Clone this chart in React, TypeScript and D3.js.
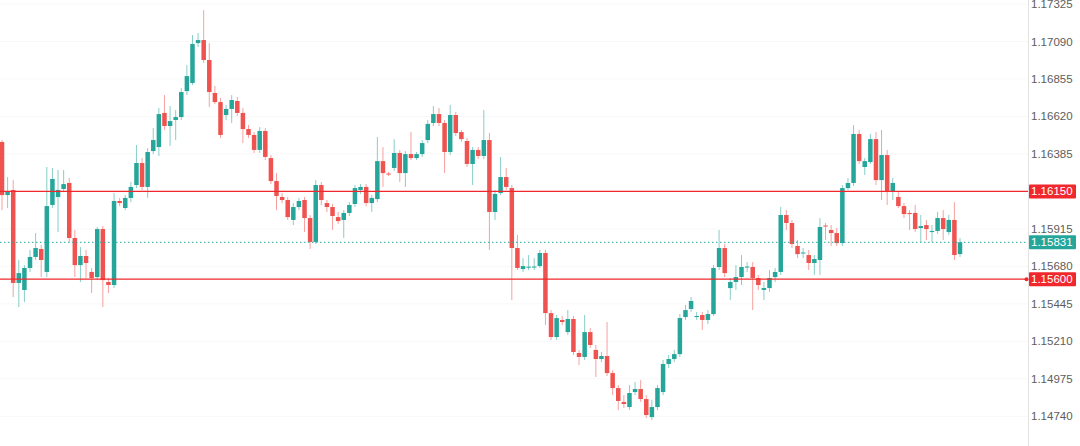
import React from "react";
import * as d3 from "d3";

// EUR/USD style candles (172 bars)
const opens = [
  1.1646,1.16127,1.16159,1.15576,1.15532,1.1567,1.15739,1.15789,1.15645,1.16065,
  1.16115,1.16165,1.16203,1.15858,1.15688,1.15745,1.15645,1.15613,1.15914,1.15582,
  1.15563,1.1609,1.16046,1.16109,1.1619,1.16328,1.16178,1.16403,1.16428,1.16642,
  1.1656,1.16598,1.16616,1.16779,1.1683,1.1708,1.17099,1.16974,1.16767,1.1671,
  1.16629,1.16667,1.16717,1.16642,1.16541,1.16504,1.1641,1.16529,1.16359,1.16215,
  1.16115,1.16096,1.15971,1.16052,1.16096,1.15983,1.15833,1.1619,1.16077,1.16052,
  1.15989,1.15971,1.16015,1.16071,1.16159,1.16178,1.16077,1.16102,1.1634,1.16262,
  1.16297,1.16391,1.16265,1.16384,1.16359,1.16384,1.16472,1.16579,1.16635,1.16579,
  1.16397,1.16629,1.16522,1.16466,1.16322,1.1641,1.16372,1.16472,1.16021,1.1614,
  1.1624,1.16171,1.15795,1.15663,1.15672,1.15673,1.15682,1.15764,1.15387,1.15237,
  1.15344,1.15268,1.1535,1.15137,1.15112,1.15268,1.15156,1.15099,1.15118,1.15011,
  1.14917,1.1483,1.14798,1.14892,1.14911,1.14848,1.14735,1.14798,1.14892,1.15068,
  1.15099,1.1513,1.15362,1.15413,1.15362,1.15375,1.15344,1.15381,1.15676,1.15795,
  1.15544,1.15582,1.15613,1.15673,1.15676,1.15607,1.15532,1.15544,1.15613,1.15645,
  1.16002,1.15952,1.15808,1.15761,1.15751,1.15701,1.1572,1.15936,1.15908,1.15889,
  1.15826,1.16171,1.16203,1.1651,1.16303,1.16334,1.16478,1.16221,1.16378,1.16152,
  1.16115,1.16058,1.16015,1.16015,1.1592,1.15939,1.15895,1.15902,1.15983,1.15895,
  1.15971,1.15757,
];
const highs = [
  1.16472,1.1624,1.16221,1.1572,1.15688,1.15783,1.15889,1.15814,1.16303,1.16297,
  1.16284,1.16284,1.16234,1.15908,1.15801,1.15783,1.1567,1.15927,1.15933,1.15607,
  1.1614,1.16109,1.16127,1.16209,1.16441,1.16359,1.16422,1.16547,1.16673,1.16754,
  1.16685,1.1666,1.16798,1.16942,1.17131,1.17143,1.17287,1.1708,1.16811,1.16736,
  1.16692,1.16754,1.16742,1.16673,1.16566,1.16522,1.16554,1.16547,1.16378,1.16265,
  1.1614,1.16115,1.16077,1.16109,1.16115,1.16002,1.16221,1.16209,1.16096,1.16071,
  1.16021,1.16033,1.16083,1.1619,1.16196,1.16196,1.16127,1.16491,1.16428,1.16272,
  1.16478,1.1641,1.16403,1.16522,1.16397,1.16472,1.16598,1.16685,1.16673,1.16598,
  1.16692,1.16648,1.16535,1.16485,1.16428,1.16428,1.1666,1.16516,1.16159,1.16366,
  1.16297,1.1619,1.15877,1.15732,1.15751,1.15732,1.15783,1.15783,1.15406,1.15375,
  1.15369,1.15406,1.15369,1.15156,1.15375,1.15293,1.15187,1.15143,1.15331,1.1503,
  1.14936,1.14873,1.14936,1.14955,1.14967,1.14873,1.14842,1.14936,1.15093,1.15124,
  1.15156,1.15381,1.15438,1.15488,1.15394,1.15394,1.15406,1.15688,1.15908,1.1582,
  1.15607,1.15688,1.15751,1.15707,1.15707,1.15626,1.15582,1.15657,1.1567,1.16052,
  1.16033,1.15971,1.15845,1.15795,1.15783,1.15751,1.15983,1.15952,1.15939,1.1592,
  1.1619,1.16234,1.16566,1.16535,1.16359,1.1651,1.16522,1.16535,1.1641,1.16234,
  1.16146,1.16077,1.16033,1.16065,1.16002,1.15971,1.15939,1.16021,1.16033,1.16002,
  1.16083,1.15858,
];
const lows = [
  1.16033,1.16046,1.15488,1.15425,1.15456,1.15645,1.1572,1.15613,1.15613,1.16046,
  1.15895,1.16146,1.15833,1.15613,1.15582,1.15607,1.15513,1.15594,1.15425,1.15513,
  1.15544,1.16058,1.16033,1.16083,1.16171,1.16159,1.16109,1.16384,1.16372,1.16535,
  1.16435,1.16472,1.16598,1.16754,1.16817,1.17055,1.16955,1.16679,1.16698,1.16485,
  1.16598,1.16579,1.16623,1.16453,1.16485,1.16391,1.16391,1.16347,1.16196,1.16033,
  1.16077,1.15971,1.15939,1.16033,1.15895,1.15789,1.1582,1.16065,1.16021,1.15908,
  1.15946,1.15858,1.15996,1.16052,1.16134,1.16058,1.16021,1.16083,1.16178,1.16246,
  1.16278,1.16209,1.16178,1.16347,1.16347,1.16366,1.16453,1.1656,1.1656,1.16265,
  1.16378,1.16497,1.1646,1.16303,1.1619,1.16353,1.16353,1.15783,1.15971,1.16127,
  1.16159,1.15469,1.15657,1.15645,1.15657,1.15657,1.1567,1.15312,1.15218,1.15218,
  1.15312,1.1525,1.15124,1.15061,1.15093,1.15168,1.14986,1.1508,1.14992,1.14873,
  1.14779,1.14792,1.14779,1.14873,1.1483,1.14729,1.14717,1.14779,1.14873,1.15043,
  1.1508,1.15112,1.15344,1.15394,1.15344,1.15281,1.15318,1.15369,1.15657,1.15613,
  1.15469,1.15532,1.15563,1.15645,1.15406,1.15532,1.15469,1.15519,1.15582,1.15626,
  1.15908,1.15795,1.15732,1.15732,1.15657,1.15626,1.15626,1.15845,1.15808,1.15808,
  1.15808,1.16159,1.16184,1.16322,1.16253,1.16322,1.1619,1.16096,1.16065,1.16096,
  1.16046,1.15983,1.15908,1.15895,1.15833,1.15845,1.15833,1.15883,1.15845,1.15877,
  1.1572,1.15739,
];
const closes = [
  1.16127,1.16152,1.15576,1.15638,1.1567,1.15739,1.15795,1.1572,1.16058,1.16228,
  1.16159,1.16196,1.15858,1.15688,1.15745,1.15701,1.15607,1.15914,1.15594,1.15563,
  1.1609,1.16077,1.16109,1.16178,1.16328,1.16178,1.16397,1.16472,1.16635,1.1656,
  1.16591,1.16616,1.16773,1.16873,1.17074,1.17099,1.16974,1.16773,1.1671,1.16504,
  1.16667,1.16723,1.16642,1.16541,1.16504,1.1641,1.16529,1.16366,1.16215,1.16121,
  1.16096,1.15989,1.16052,1.1609,1.15983,1.15833,1.1619,1.16096,1.16052,1.15996,
  1.15964,1.16015,1.16065,1.16171,1.16178,1.16077,1.16109,1.1634,1.16265,1.16256,
  1.16391,1.16265,1.16384,1.16359,1.16384,1.16453,1.16573,1.16635,1.16579,1.16397,
  1.16629,1.16516,1.16478,1.16322,1.1641,1.16372,1.16472,1.16021,1.16134,1.1624,
  1.16178,1.15795,1.1567,1.15682,1.15678,1.15679,1.15764,1.15387,1.15237,1.15356,
  1.15331,1.1535,1.15143,1.15112,1.15268,1.15187,1.15099,1.15118,1.15011,1.14917,
  1.14836,1.14817,1.14886,1.14911,1.14848,1.14748,1.14798,1.14917,1.15068,1.15099,
  1.1513,1.15356,1.15406,1.15463,1.15369,1.15344,1.15381,1.1567,1.15795,1.15638,
  1.15582,1.15613,1.15676,1.15679,1.15607,1.15563,1.15544,1.15607,1.15645,1.16002,
  1.15952,1.1582,1.15757,1.15767,1.15701,1.15726,1.15927,1.1593,1.15889,1.15826,
  1.16171,1.16203,1.1651,1.1634,1.1634,1.16478,1.16221,1.16378,1.16146,1.16203,
  1.16058,1.16008,1.16008,1.15914,1.15933,1.15914,1.15902,1.15983,1.15914,1.15971,
  1.15751,1.15831,
];

const axisTicks = [1.17325,1.1709,1.16855,1.1662,1.16385,1.1615,1.15915,1.1568,1.15445,1.1521,1.14975,1.1474];
const resistance = 1.1615;
const support = 1.156;
const lastPrice = 1.15831;

const W = 1080;
const H = 446;
const AXIS_X = 1028;
const UP = "#26a69a";
const DOWN = "#ef5350";
const LEVEL = "#f0282d";

export default function App() {
  const n = closes.length;
  const x = d3.scaleLinear().domain([0, n - 1]).range([2, 960]);
  const y = d3.scaleLinear().domain([1.1474, 1.17325]).range([416.3, 4]);
  const bw = 4.5;

  const candles = d3.range(n).map((i) => {
    const o = opens[i], c = closes[i], h = highs[i], l = lows[i];
    const up = c >= o;
    const col = up ? UP : DOWN;
    const top = y(Math.max(o, c));
    const bh = Math.max(1, Math.abs(y(o) - y(c)));
    const cx = x(i);
    return (
      <g key={i}>
        <line x1={cx} x2={cx} y1={y(h)} y2={y(l)} stroke={col} strokeOpacity={0.55} strokeWidth={1} />
        <rect x={cx - bw / 2} y={top} width={bw} height={bh} fill={col} />
      </g>
    );
  });

  const fmt = (v: number) => v.toFixed(5);

  return (
    <svg width={W} height={H} style={{ position: "fixed", left: 0, top: 0, background: "#fff" }}
      fontFamily="'Liberation Sans', Arial, sans-serif">
      <rect x={0} y={0} width={W} height={H} fill="#fff" />
      {axisTicks.map((t) => (
        <line key={"g" + t} x1={0} x2={AXIS_X} y1={y(t)} y2={y(t)} stroke="#f8f8f8" strokeWidth={1} />
      ))}
      {candles}
      <line x1={0} x2={AXIS_X} y1={y(resistance)} y2={y(resistance)} stroke={LEVEL} strokeWidth={1.2} />
      <line x1={0} x2={AXIS_X} y1={y(support)} y2={y(support)} stroke={LEVEL} strokeWidth={1.2} />
      <line x1={0} x2={AXIS_X} y1={y(lastPrice)} y2={y(lastPrice)} stroke={UP} strokeWidth={1} strokeDasharray="1.5,2.5" />
      <line x1={AXIS_X + 0.5} x2={AXIS_X + 0.5} y1={0} y2={H} stroke="#e3e3e3" strokeWidth={1} />
      {axisTicks.map((t) => (
        <text key={"t" + t} x={1031} y={y(t)} dy="0.35em" fontSize={11.5} fill="#5d5d5d">
          {fmt(t)}
        </text>
      ))}
      {[
        { v: resistance, c: LEVEL },
        { v: lastPrice, c: UP },
        { v: support, c: LEVEL },
      ].map((d) => (
        <g key={"b" + d.v}>
          <rect x={1029} y={y(d.v) - 7} width={47} height={14} fill={d.c} rx={1} />
          <text x={1031} y={y(d.v)} dy="0.35em" fontSize={11.5} fill="#fff">
            {fmt(d.v)}
          </text>
        </g>
      ))}
      <circle cx={1026.5} cy={y(support)} r={2} fill={LEVEL} />
    </svg>
  );
}
